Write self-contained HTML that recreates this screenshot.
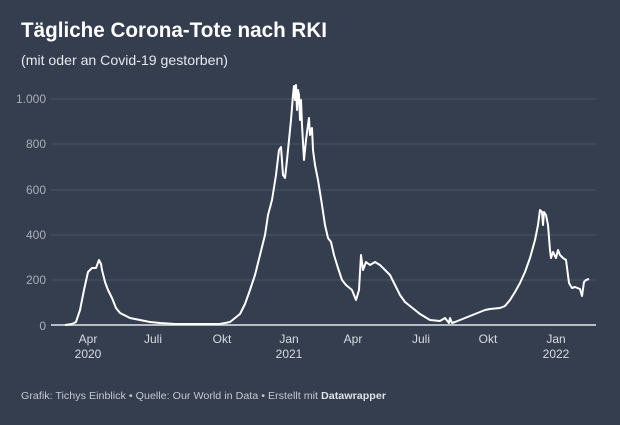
<!DOCTYPE html>
<html><head><meta charset="utf-8"><style>
html,body{margin:0;padding:0;background:#343e4f;}
body{width:620px;height:420px;overflow:hidden;font-family:"Liberation Sans",sans-serif;}
</style></head><body>
<svg width="620" height="420" xmlns="http://www.w3.org/2000/svg">
<rect width="620" height="420" fill="#343e4f"/>
<text x="21" y="37" fill="#fff" font-size="21" font-weight="bold" font-family="Liberation Sans, sans-serif" textLength="306" lengthAdjust="spacingAndGlyphs">Tägliche Corona-Tote nach RKI</text>
<text x="21" y="65" fill="#e6e8ec" font-size="14" font-family="Liberation Sans, sans-serif" textLength="207" lengthAdjust="spacingAndGlyphs">(mit oder an Covid-19 gestorben)</text>
<g stroke="#4a5466" stroke-width="1">
<line x1="51" x2="596" y1="99" y2="99"/><line x1="51" x2="596" y1="144" y2="144"/>
<line x1="51" x2="596" y1="190" y2="190"/><line x1="51" x2="596" y1="235" y2="235"/>
<line x1="51" x2="596" y1="280" y2="280"/>
</g>
<line x1="51" x2="596" y1="325" y2="325" stroke="#b8bcc4" stroke-width="2"/>
<g fill="#a9aeb8" font-size="12" font-family="Liberation Sans, sans-serif" text-anchor="end">
<text x="46" y="103">1.000</text><text x="46" y="148">800</text><text x="46" y="194">600</text>
<text x="46" y="239">400</text><text x="46" y="284">200</text><text x="46" y="330">0</text>
</g>
<g fill="#d8dbe0" font-size="12" font-family="Liberation Sans, sans-serif" text-anchor="middle">
<text x="88" y="343">Apr</text><text x="88" y="358">2020</text>
<text x="153" y="343">Juli</text><text x="222" y="343">Okt</text>
<text x="289" y="343">Jan</text><text x="289" y="358">2021</text>
<text x="353" y="343">Apr</text><text x="421" y="343">Juli</text><text x="488" y="343">Okt</text>
<text x="556" y="343">Jan</text><text x="556" y="358">2022</text>
</g>
<polyline fill="none" stroke="#fff" stroke-width="2" stroke-linejoin="round" points="65,325 72,324 76,322 80,310 84,290 88,272 92,268 96,268 99,260 101,264 102,270 105,282 108,290 112,298 116,308 120,313 130,318 140,320 150,322 160,323 175,324 200,324 220,324 230,322 235,318 240,314 245,304 250,290 255,275 260,255 265,235 268,215 272,200 276,175 279,150 281,147 283,175 285,178 287,160 289,140 291,120 293,95 294,86 295,100 296,85 297,110 298,90 299,95 300,120 301,100 302,125 304,160 306,140 308,125 309,118 310,135 312,128 313,150 315,165 318,180 322,205 325,225 328,238 331,242 334,255 338,268 342,280 346,285 352,290 356,300 359,290 361,255 363,270 366,262 370,265 375,262 380,265 385,270 390,275 395,285 400,295 405,302 410,306 415,310 420,314 430,320 440,321 445,318 449,323 450,318 452,323 455,322 460,320 470,316 480,312 485,310 490,309 500,308 505,306 510,300 515,292 520,283 525,272 530,258 535,240 538,225 540,210 542,212 543,225 544,212 546,215 548,225 550,250 551,258 553,252 556,258 558,250 560,255 563,258 566,260 569,283 572,288 575,287 580,289 582,296 584,282 586,280 589,279"/>
<text x="21" y="399" fill="#c4c8cf" font-size="10" font-family="Liberation Sans, sans-serif" textLength="365" lengthAdjust="spacingAndGlyphs">Grafik: Tichys Einblick • Quelle: Our World in Data • Erstellt mit <tspan font-weight="bold" fill="#e0e2e6">Datawrapper</tspan></text>
</svg>
</body></html>
